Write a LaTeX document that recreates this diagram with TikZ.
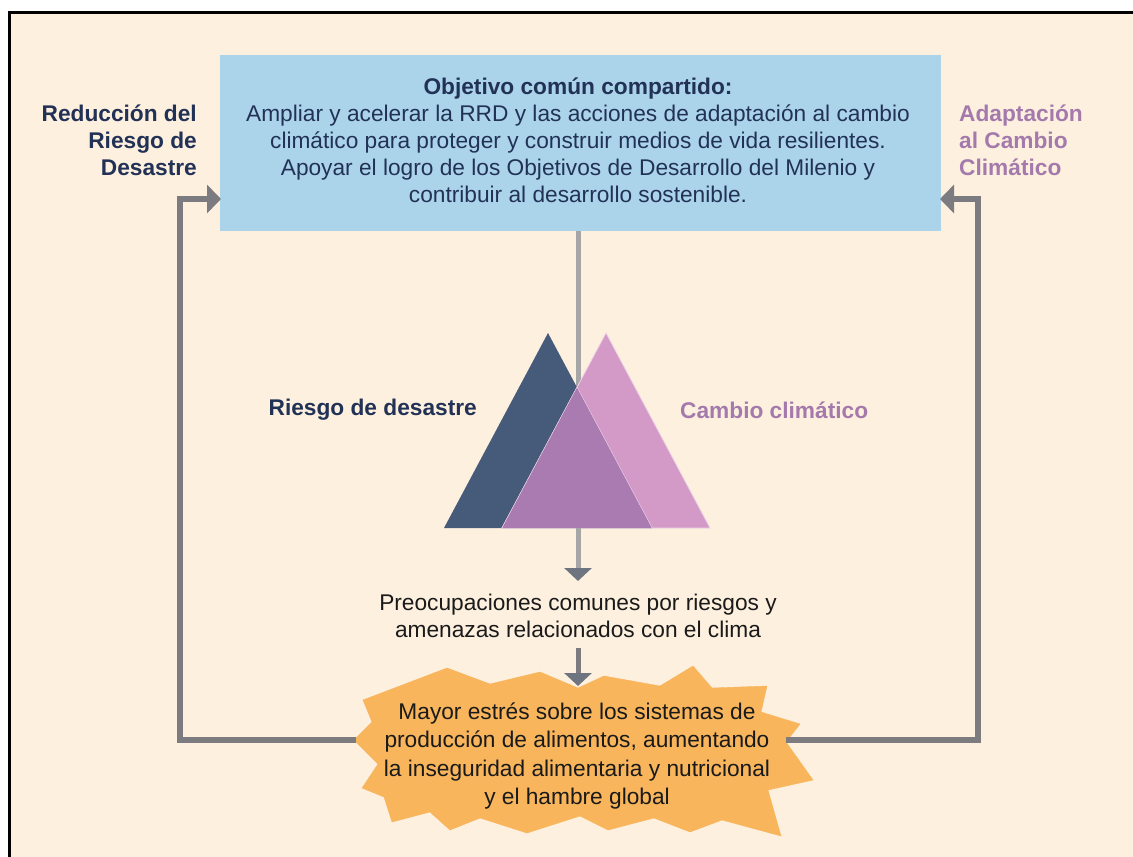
\documentclass[tikz,border=0pt]{standalone}
\usepackage{fontspec}
\setmainfont{Liberation Sans}
\usetikzlibrary{arrows.meta}
\definecolor{paper}{HTML}{FEF0DF}
\definecolor{goalblue}{HTML}{ABD4EA}
\definecolor{navy}{HTML}{223256}
\definecolor{mauve}{HTML}{A47AAC}
\definecolor{slate}{HTML}{465A7A}
\definecolor{rose}{HTML}{D39AC7}
\definecolor{blend}{HTML}{A97BB1}
\definecolor{burst}{HTML}{F8B55C}
\definecolor{loopgray}{HTML}{7B7B80}
\definecolor{stemgray}{HTML}{A6A6A6}
\definecolor{tipgray}{HTML}{6F7580}
\definecolor{ink}{HTML}{1A1A1A}
\begin{document}
\begin{tikzpicture}[x=1pt,y=-1pt,
  txt/.style={font=\fontsize{22.7}{27}\selectfont, inner sep=0pt, align=center},
  btxt/.style={font=\bfseries\fontsize{22.7}{27}\selectfont, inner sep=0pt},
  loopline/.style={draw=loopgray, line width=6pt, line join=miter,
    -{Triangle[width=28pt,length=14pt,color=loopgray]}},
  stemline/.style={draw=stemgray, line width=5pt},
  downarrow/.style={draw=stemgray, line width=5pt,
    -{Triangle[width=27pt,length=13pt,color=tipgray]}}]
\useasboundingbox (0,0) rectangle (1133,857);
% page and frame
\fill[white] (0,0) rectangle (1133,857);
\fill[paper] (9,12) rectangle (1133,857);
\draw[black, line width=3pt] (9,857) -- (9,12) -- (1133,12);

% shared goal box
\node[fill=goalblue, minimum width=721pt, minimum height=176pt, inner sep=0pt] (goal) at (580.5,143) {};
\node[txt, text=navy] (goaltext) at (578,140)
  {\textbf{Objetivo común compartido:}\\
   Ampliar y acelerar la RRD y las acciones de adaptación al cambio\\
   climático para proteger y construir medios de vida resilientes.\\
   Apoyar el logro de los Objetivos de Desarrollo del Milenio y\\
   contribuir al desarrollo sostenible.};

% side labels
\node[btxt, text=navy, align=right, anchor=east] (rrd) at (197,140)
  {Reducción del\\Riesgo de\\Desastre};
\node[btxt, text=mauve, align=left, anchor=west] (acc) at (959,140)
  {Adaptación\\al Cambio\\Climático};

% stem from the goal box, behind the triangles
\coordinate (goalS) at (578,231);
\coordinate (triBase) at (578,528);
\draw[stemline] (goalS) -- (triBase);

% overlapping triangles
\fill[slate] (444,528) -- (548,333) -- (652,528) -- cycle;
\filldraw[fill=rose, draw=rose!45!white, line width=0.8pt] (502,528) -- (606,333) -- (710,528) -- cycle;
\filldraw[fill=blend, draw=rose!45!white, line width=0.8pt] (502,528) -- (577,387.4) -- (652,528);
\fill[blend] (502.5,527.6) -- (577,387.8) -- (651.5,527.6) -- cycle;

\node[btxt, text=navy, anchor=east] (riesgo) at (477,410) {Riesgo de desastre};
\node[btxt, text=mauve, anchor=west] (cambio) at (680,410) {Cambio climático};

% common concerns
\node[txt, text=ink] (concern) at (578,616)
  {Preocupaciones comunes por riesgos y\\amenazas relacionados con el clima};
\coordinate (concernTop) at (578,581);
\draw[downarrow] (triBase) -- (concernTop);

% food-system stress burst
\filldraw[fill=burst, draw=burst, line join=miter]
  (363,700) -- (447,668) -- (490,684) -- (540,672) -- (578,688) -- (604,676)
  -- (660,686) -- (693,666) -- (712,688) -- (767,686) -- (761,712) -- (800,724)
  -- (786,742) -- (813,780) -- (768,790) -- (781,836) -- (722,820) -- (690,832)
  -- (654,818) -- (608,830) -- (580,816) -- (527,833) -- (480,818) -- (450,830)
  -- (430,812) -- (392,822) -- (384,797) -- (362,788) -- (378,764) -- (354,740)
  -- (372,722) -- cycle;
\node[txt, text=ink, font=\fontsize{22.7}{28.5}\selectfont] (stress) at (577,756)
  {Mayor estrés sobre los sistemas de\\
   producción de alimentos, aumentando\\
   la inseguridad alimentaria y nutricional\\
   y el hambre global};

\coordinate (concernBot) at (578,648);
\coordinate (burstTop) at (578,686);
\draw[downarrow, draw=loopgray] (concernBot) -- (burstTop);

% feedback loops into the goal box
\coordinate (burstW) at (356,740);
\coordinate (burstE) at (786,740);
\coordinate (goalL) at (221,199);
\coordinate (goalR) at (940,199);
\draw[loopline] (burstW) -- ++(-176,0) |- (goalL);
\draw[loopline] (burstE) -- ++(192,0) |- (goalR);
\end{tikzpicture}
\end{document}
